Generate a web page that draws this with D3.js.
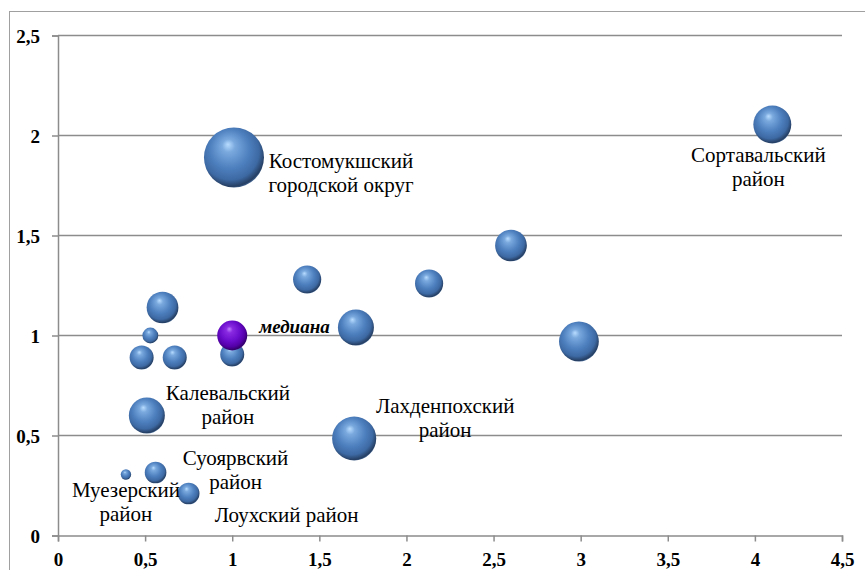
<!DOCTYPE html>
<html>
<head>
<meta charset="utf-8">
<script src="https://cdn.jsdelivr.net/npm/d3@7"></script>
<style>
  body { margin: 0; background: #fff; }
</style>
</head>
<body>
<div id="chart"></div>
<script>
// Data
var xs    = [1.01, 4.10, 2.60, 2.13, 1.43, 1.71, 2.99, 0.60, 0.53, 0.48, 0.67, 1.00, 0.51, 1.70, 0.56, 0.39, 0.75];
var ys    = [1.89, 2.055, 1.45, 1.26, 1.28, 1.04, 0.97, 1.14, 1.00, 0.89, 0.89, 0.905, 0.60, 0.485, 0.315, 0.305, 0.21];
var sizes = [100, 40, 28, 22, 22, 36, 44, 28, 7, 16, 16, 16, 36, 54, 13, 3, 13];
var names = ["Костомукшский|городской округ", "Сортавальский|район", "", "", "", "", "", "", "", "", "", "",
             "Калевальский|район", "Лахденпохский|район", "Суоярвский|район", "Муезерский|район", "Лоухский район"];
var median = { x: 1.0, y: 1.0, size: 25, label: "медиана" };
var xTicks = [0, 0.5, 1, 1.5, 2, 2.5, 3, 3.5, 4, 4.5];
var yTicks = [0, 0.5, 1, 1.5, 2, 2.5];

// label offsets (px) from bubble centre
var labelPos = [
  [107, 15], [-14, 42], null, null, null, null, null, null, null, null, null, null,
  [81, -11], [91, -21], [80, -3], [0, 27], [98, 21]
];

var SERIF = "'Liberation Serif'";

var W = 865, H = 570,
    margin = { left: 58, top: 35.5, right: 23, bottom: 34.5 };

var svg = d3.select("#chart").append("svg")
    .attr("width", W)
    .attr("height", H)
    .style("font-family", SERIF);

// outer frame
svg.append("rect")
    .attr("x", 9.5).attr("y", 11.5)
    .attr("width", 880).attr("height", 600)
    .attr("fill", "none")
    .attr("stroke", "#a0a0a0")
    .attr("stroke-width", 1);

var x = d3.scaleLinear().domain([0, 4.5]).range([margin.left, W - margin.right]);
var y = d3.scaleLinear().domain([0, 2.5]).range([H - margin.bottom, margin.top]);
var r = d3.scaleSqrt().domain([0, 100]).range([0, 30]);

// gradients for the spheres
var defs = svg.append("defs");
function sphere(id, stops) {
  var g = defs.append("radialGradient").attr("id", id)
      .attr("cx", "45%").attr("cy", "42%").attr("r", "60%")
      .attr("fx", "40%").attr("fy", "28%");
  stops.forEach(function(s) {
    g.append("stop").attr("offset", s[0]).attr("stop-color", s[1]);
  });
}
sphere("blueBall", [["0%", "#b8dcff"], ["18%", "#7aa9de"], ["55%", "#4d7fbe"], ["80%", "#3d69a3"], ["95%", "#263f63"], ["100%", "#4a6f9e"]]);
sphere("purpleBall", [["0%", "#c080ff"], ["18%", "#8a2be2"], ["55%", "#6a0dcc"], ["80%", "#5400a8"], ["95%", "#33006a"], ["100%", "#5a1a9a"]]);

// gridlines
svg.append("g")
    .selectAll("line")
    .data(yTicks.slice(1))
    .enter().append("line")
    .attr("x1", x(0)).attr("x2", x(4.5))
    .attr("y1", function(d) { return y(d); })
    .attr("y2", function(d) { return y(d); })
    .attr("stroke", "#8c8c8c")
    .attr("stroke-width", 1.5);

var fmt = function(d) { return String(d).replace(".", ","); };

var xAxis = svg.append("g")
    .attr("transform", "translate(0," + y(0) + ")")
    .call(d3.axisBottom(x).tickValues(xTicks).tickFormat(fmt).tickSize(6).tickPadding(11));
var yAxis = svg.append("g")
    .attr("transform", "translate(" + x(0) + ",0)")
    .call(d3.axisLeft(y).tickValues(yTicks).tickFormat(fmt).tickSize(6).tickPadding(12));

[xAxis, yAxis].forEach(function(a) {
  a.attr("font-family", SERIF).attr("font-size", null);
  a.select(".domain").attr("stroke", "#8c8c8c").attr("stroke-width", 1.5);
  a.selectAll(".tick line").attr("stroke", "#8c8c8c").attr("stroke-width", 1.5);
  a.selectAll(".tick text")
    .attr("fill", "#000")
    .style("font-family", SERIF)
    .style("font-weight", "bold")
    .style("font-size", "19px");
});
xAxis.selectAll(".tick text").attr("dy", "0.71em");
yAxis.selectAll(".tick text").attr("dy", "0.35em");

// bubbles
var pts = xs.map(function(d, i) { return { x: d, y: ys[i], s: sizes[i], name: names[i], off: labelPos[i] }; });

svg.append("g")
    .selectAll("circle")
    .data(pts)
    .enter().append("circle")
    .attr("cx", function(d) { return x(d.x); })
    .attr("cy", function(d) { return y(d.y); })
    .attr("r", function(d) { return r(d.s); })
    .attr("fill", "url(#blueBall)");

svg.append("circle")
    .attr("cx", x(median.x))
    .attr("cy", y(median.y))
    .attr("r", r(median.size))
    .attr("fill", "url(#purpleBall)");

svg.append("text")
    .attr("x", x(median.x) + 27)
    .attr("y", y(median.y) - 9)
    .attr("dy", "0.35em")
    .style("font-family", SERIF)
    .style("font-weight", "bold")
    .style("font-style", "italic")
    .style("font-size", "19px")
    .text(median.label);

// labels
var labels = svg.append("g")
    .selectAll("text")
    .data(pts.filter(function(d) { return d.name; }))
    .enter().append("text")
    .attr("text-anchor", "middle")
    .style("font-family", SERIF)
    .style("font-size", "21px")
    .attr("transform", function(d) {
      return "translate(" + (x(d.x) + d.off[0]) + "," + (y(d.y) + d.off[1]) + ")";
    });

labels.each(function(d) {
  var t = d3.select(this);
  var lines = d.name.split("|");
  var lh = 24;
  lines.forEach(function(l, k) {
    t.append("tspan")
      .attr("x", 0)
      .attr("y", (k - (lines.length - 1) / 2) * lh)
      .attr("dy", "0.35em")
      .text(l);
  });
});
</script>
</body>
</html>
